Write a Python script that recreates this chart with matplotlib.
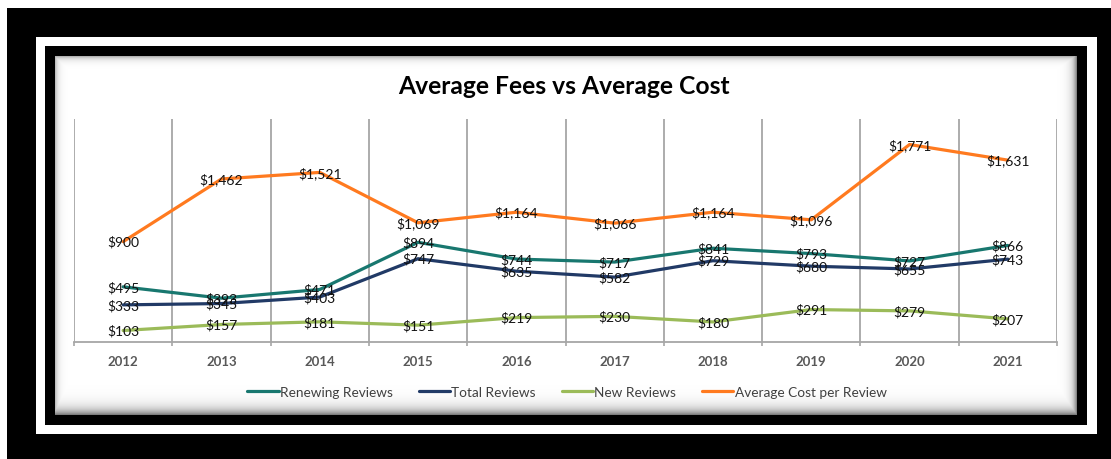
import matplotlib
matplotlib.use("Agg")
import matplotlib.pyplot as plt
import numpy as np
from matplotlib.patches import Rectangle

plt.rcParams['font.family'] = ['Lato', 'DejaVu Sans']

# --- Data ---
years = ['2012', '2013', '2014', '2015', '2016', '2017', '2018', '2019', '2020', '2021']
renewing = [495, 393, 471, 894, 744, 717, 841, 793, 727, 866]
total = [333, 345, 403, 747, 635, 582, 729, 680, 655, 743]
new = [103, 157, 181, 151, 219, 230, 180, 291, 279, 207]
avg_cost = [900, 1462, 1521, 1069, 1164, 1066, 1164, 1096, 1771, 1631]

series = [
    ('Renewing Reviews', renewing, '#18776F'),
    ('Total Reviews', total, '#213A66'),
    ('New Reviews', new, '#9BBB59'),
    ('Average Cost per Review', avg_cost, '#FF7A1F'),
]

W, H = 1111, 460
fig = plt.figure(figsize=(W / 100, H / 100), dpi=100)
fig.patch.set_facecolor('white')

# --- Frame (drawn in pixel coords) ---
bg = fig.add_axes([0, 0, 1, 1], zorder=0)
bg.axis('off')

def box(x0, y0, x1, y1, color):
    bg.add_patch(Rectangle((x0, y0), x1 - x0, y1 - y0, facecolor=color,
                           edgecolor='none', zorder=1))

box(7, 9, W, H, 'black')
box(36, 38, 1097, 435, 'white')
box(45, 47, 1087, 426, 'black')

# chart area with a soft inner shadow
cx0, cy0, cx1, cy1 = 55, 57, 1077, 416
cw, ch = cx1 - cx0, cy1 - cy0
xx = np.arange(cw)[None, :] + 0.5 + np.zeros((ch, 1))
yy = np.arange(ch)[:, None] + 0.5 + np.zeros((1, cw))
shade = np.maximum.reduce([
    0.30 * np.exp(-xx / 3.0),
    0.35 * np.exp(-yy / 3.0),
    0.55 * np.exp(-(cw - xx) / 4.0),
    0.55 * np.exp(-(ch - yy) / 6.0),
])
img = 1 - shade
bg.imshow(img, cmap='gray', vmin=0, vmax=1, extent=(cx0, cx1, cy1, cy0),
          interpolation='bilinear', aspect='auto', zorder=2)
bg.set_xlim(0, W)
bg.set_ylim(H, 0)

# --- Plot ---
ax = fig.add_axes([74 / W, 1 - 343 / H, 983 / W, 223 / H], zorder=1)
ax.patch.set_alpha(0)
x = np.arange(len(years))

for name, vals, color in series:
    ax.plot(x, vals, color=color, lw=2.3, label=name, solid_capstyle='round', zorder=3)
    for i, v in enumerate(vals):
        ax.text(i, v, f"${v:,}", ha='center', va='center', fontsize=10,
                color='#111111', zorder=4)

ax.set_xlim(-0.5, len(years) - 0.5)
ax.set_ylim(0, 2000)
ax.set_xticks(x)
ax.set_xticklabels(years, fontsize=9.5, fontweight='bold', color='#595959')
ax.set_xticks(np.arange(-0.5, len(years)), minor=True)
ax.tick_params(axis='x', which='major', length=0, pad=9)
ax.tick_params(axis='x', which='minor', length=3, color='#A6A6A6', width=1.2)
ax.set_yticks([])
ax.grid(True, which='minor', axis='x', color='#A6A6A6', lw=1.3)
for side in ['top', 'left', 'right']:
    ax.spines[side].set_visible(False)
ax.spines['bottom'].set_color('#A6A6A6')
ax.spines['bottom'].set_linewidth(1.3)

fig.text(564 / W, 1 - 86 / H, 'Average Fees vs Average Cost', ha='center', va='center',
         fontsize=17.7, fontweight='bold', color='black')

fig.legend(loc='center', bbox_to_anchor=(567 / W, 1 - 393 / H), ncol=4, frameon=False,
           fontsize=9.8, handlelength=2.3, handletextpad=0.1, columnspacing=1.9,
           labelcolor='#404040')

fig.savefig('out.png', dpi=100)
